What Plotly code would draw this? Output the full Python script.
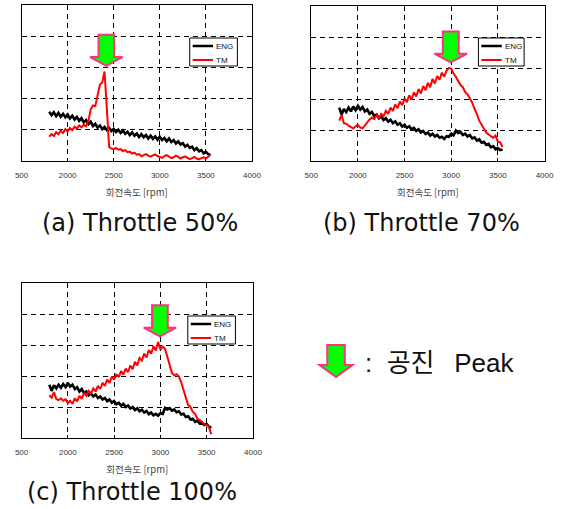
import plotly.graph_objects as go

# ---------------- data ----------------
rpm = list(range(1800, 3551, 25))  # 71 sample speeds

eng_50 = [1.58, 1.47, 1.56, 1.44, 1.54, 1.42, 1.51, 1.40, 1.49, 1.36, 1.45, 1.33,
          1.41, 1.29, 1.37, 1.24, 1.31, 1.18, 1.26, 1.12, 1.19, 1.07, 1.14, 1.02,
          1.09, 0.99, 1.06, 0.96, 1.03, 0.93, 1.00, 0.90, 0.98, 0.87, 0.94, 0.83,
          0.92, 0.81, 0.88, 0.77, 0.86, 0.76, 0.83, 0.72, 0.81, 0.71, 0.79, 0.68,
          0.78, 0.67, 0.74, 0.63, 0.72, 0.61, 0.67, 0.56, 0.63, 0.53, 0.57, 0.46,
          0.52, 0.42, 0.46, 0.35, 0.41, 0.31, 0.35, 0.25, 0.29, 0.22, 0.20]
tm_50 = [0.78, 0.86, 0.80, 0.92, 0.86, 0.97, 0.90, 1.02, 0.95, 1.06, 0.99, 1.10,
         1.04, 1.14, 1.08, 1.16, 1.12, 1.28, 1.65, 1.78, 1.76, 2.10, 2.45, 2.52,
         2.87, 1.70, 0.45, 0.40, 0.38, 0.42, 0.36, 0.38, 0.32, 0.35, 0.28, 0.30,
         0.24, 0.27, 0.20, 0.22, 0.15, 0.19, 0.22, 0.17, 0.14, 0.18, 0.21, 0.16,
         0.13, 0.10, 0.16, 0.19, 0.14, 0.09, 0.12, 0.17, 0.13, 0.08, 0.12, 0.15,
         0.10, 0.06, 0.09, 0.13, 0.08, 0.05, 0.09, 0.12, 0.08, 0.14, 0.19]

eng_70 = [1.72, 1.50, 1.68, 1.58, 1.72, 1.60, 1.76, 1.64, 1.78, 1.66, 1.74, 1.60,
          1.66, 1.52, 1.58, 1.45, 1.50, 1.38, 1.44, 1.32, 1.38, 1.27, 1.33, 1.22,
          1.28, 1.17, 1.22, 1.11, 1.17, 1.07, 1.12, 1.02, 1.07, 0.97, 1.02, 0.92,
          0.97, 0.87, 0.92, 0.82, 0.88, 0.79, 0.84, 0.75, 0.78, 0.71, 0.80, 0.78,
          0.88, 0.83, 0.98, 0.90, 0.94, 0.84, 0.88, 0.79, 0.84, 0.73, 0.76, 0.66,
          0.70, 0.59, 0.62, 0.52, 0.55, 0.44, 0.48, 0.38, 0.42, 0.35, 0.37]
tm_70 = [1.30, 1.48, 1.22, 1.20, 1.14, 1.10, 1.05, 1.12, 1.17, 1.08, 1.06, 1.15,
         1.25, 1.34, 1.40, 1.35, 1.48, 1.38, 1.52, 1.45, 1.62, 1.52, 1.72, 1.62,
         1.82, 1.70, 1.92, 1.80, 2.02, 1.90, 2.12, 1.98, 2.22, 2.08, 2.32, 2.18,
         2.42, 2.28, 2.52, 2.38, 2.65, 2.50, 2.74, 2.62, 2.85, 2.72, 2.92, 3.00,
         2.98, 2.82, 2.72, 2.60, 2.45, 2.38, 2.22, 2.15, 2.02, 1.88, 1.68, 1.52,
         1.30, 1.15, 1.05, 0.92, 0.85, 0.80, 0.75, 0.82, 0.62, 0.60, 0.45]

eng_100 = [1.72, 1.52, 1.70, 1.60, 1.72, 1.62, 1.74, 1.64, 1.78, 1.66, 1.72, 1.58,
           1.64, 1.50, 1.58, 1.45, 1.50, 1.38, 1.44, 1.34, 1.40, 1.29, 1.34, 1.24,
           1.29, 1.19, 1.24, 1.14, 1.19, 1.09, 1.14, 1.04, 1.10, 1.00, 1.05, 0.95,
           1.00, 0.90, 0.96, 0.86, 0.91, 0.82, 0.87, 0.77, 0.82, 0.73, 0.78, 0.72,
           0.80, 0.78, 0.97, 0.92, 0.96, 0.88, 0.92, 0.83, 0.86, 0.76, 0.78, 0.68,
           0.70, 0.60, 0.62, 0.52, 0.56, 0.47, 0.50, 0.42, 0.45, 0.37, 0.33]
tm_100 = [1.38, 1.30, 1.48, 1.26, 1.22, 1.28, 1.20, 1.25, 1.12, 1.20, 1.10, 1.28,
          1.18, 1.36, 1.26, 1.46, 1.36, 1.52, 1.44, 1.60, 1.50, 1.68, 1.58, 1.78,
          1.68, 1.88, 1.78, 1.98, 1.88, 2.06, 1.96, 2.16, 2.04, 2.24, 2.12, 2.34,
          2.22, 2.46, 2.34, 2.58, 2.50, 2.72, 2.60, 2.84, 2.72, 2.96, 2.82, 3.10,
          2.86, 2.95, 2.88, 2.60, 2.40, 2.10, 2.02, 2.06, 1.98, 1.80, 1.55, 1.30,
          1.06, 1.00, 0.85, 0.78, 0.62, 0.58, 0.50, 0.44, 0.42, 0.35, 0.12]

series_names = ["ENG", "TM"]
x_tickvals = [1500, 2000, 2500, 3000, 3500, 4000]
x_ticktext = ["500", "2000", "2500", "3000", "3500", "4000"]
x_title = "회전속도 [rpm]"
captions = ["(a) Throttle 50%", "(b) Throttle 70%", "(c) Throttle 100%"]
key_text = ":\u00a0\u00a0공진\u00a0\u00a0\u2009Peak"

for s in (eng_50, tm_50, eng_70, tm_70, eng_100, tm_100):
    assert len(s) == len(rpm)

# ---------------- layout helpers ----------------
W, H = 572, 509
def fx(p):
    return p / W
def fy(p):
    return 1 - p / H

LAT = "Liberation Sans, Arial, sans-serif"
KOR = "Noto Sans CJK KR, sans-serif"

panels = [
    dict(eng=eng_50, tm=tm_50, box=(15, 252, 5, 161), leg=(188, 38, 237, 66),
         cap=captions[0], cap_xy=(137, 223)),
    dict(eng=eng_70, tm=tm_70, box=(313, 553, 6, 161), leg=(485, 38, 532, 66),
         cap=captions[1], cap_xy=(426, 223)),
    dict(eng=eng_100, tm=tm_100, box=(15, 253, 283, 438), leg=(186, 316, 235, 344),
         cap=captions[2], cap_xy=(129, 492)),
]

fig = go.Figure()
shapes = []
annotations = []

ARROW_FILL = "#00ff00"
ARROW_LINE = "#ff2f86"

for i, p in enumerate(panels):
    sfx = "" if i == 0 else str(i + 1)
    xa, ya = "x" + sfx, "y" + sfx
    fig.add_trace(go.Scatter(x=rpm, y=p["eng"], mode="lines", name=series_names[0],
                             line=dict(color="black", width=2.6), xaxis=xa, yaxis=ya,
                             showlegend=False))
    fig.add_trace(go.Scatter(x=rpm, y=p["tm"], mode="lines", name=series_names[1],
                             line=dict(color="#ff0000", width=2), xaxis=xa, yaxis=ya,
                             showlegend=False))
    x0, x1, y0, y1 = p["box"]
    fig.update_layout(**{
        "xaxis" + sfx: dict(domain=[fx(x0), fx(x1)], anchor=ya, range=[1500, 4000],
                            tickvals=x_tickvals, ticktext=x_ticktext,
                            tickfont=dict(family=LAT, size=8, color="#333"),
                            ticks="inside", ticklen=3, tickcolor="black",
                            ticklabelstandoff=6,
                            showline=True, mirror=True, linecolor="black", linewidth=1,
                            showgrid=True, gridcolor="black", gridwidth=1,
                            griddash="5px,4px", zeroline=False,
                            title=dict(text=x_title, standoff=10,
                                       font=dict(family=KOR, size=9.5, color="#444"))),
        "yaxis" + sfx: dict(domain=[fy(y1), fy(y0)], anchor=xa, range=[0, 5], dtick=1,
                            showticklabels=False, ticks="inside", ticklen=3,
                            tickcolor="black",
                            showline=True, mirror=True, linecolor="black", linewidth=1,
                            showgrid=True, gridcolor="black", gridwidth=1,
                            griddash="5px,4px", zeroline=False),
    })

    # resonance peak arrow, placed from the TM peak
    k = max(range(len(rpm)), key=lambda j: p["tm"][j])
    xc = rpm[k] + 20
    tip = p["tm"][k] + 0.18
    base = tip + 0.28
    top = tip + 1.0
    hs, hh = 85, 175
    path = (f"M {xc-hs},{top} L {xc+hs},{top} L {xc+hs},{base} L {xc+hh},{base} "
            f"L {xc},{tip} L {xc-hh},{base} L {xc-hs},{base} Z")
    shapes.append(dict(type="path", xref=xa, yref=ya, path=path,
                       fillcolor=ARROW_FILL, line=dict(color=ARROW_LINE, width=2)))

    # legend box
    lx0, ly0, lx1, ly1 = p["leg"]
    shapes.append(dict(type="rect", xref="paper", yref="paper",
                       x0=fx(lx0), x1=fx(lx1), y0=fy(ly1), y1=fy(ly0),
                       fillcolor="white", line=dict(color="black", width=1)))
    for j, (nm, col, w) in enumerate([(series_names[0], "black", 2.5),
                                       (series_names[1], "#ff0000", 2)]):
        yy = ly0 + 8 + j * 14
        shapes.append(dict(type="line", xref="paper", yref="paper",
                           x0=fx(lx0 + 3), x1=fx(lx0 + 24), y0=fy(yy), y1=fy(yy),
                           line=dict(color=col, width=w)))
        annotations.append(dict(text=nm, xref="paper", yref="paper", x=fx(lx0 + 25),
                                y=fy(yy), xanchor="left", yanchor="middle",
                                showarrow=False,
                                font=dict(family=LAT, size=8, color="#111")))

    cx, cy = p["cap_xy"]
    annotations.append(dict(text=p["cap"], xref="paper", yref="paper", x=fx(cx), y=fy(cy),
                            xanchor="center", yanchor="middle", showarrow=False,
                            font=dict(family="DejaVu Sans, sans-serif", size=24,
                                      color="#111")))

# key arrow
kx, kt, kb, ktip = 338.5, 345, 365, 377
khs, khh = 9, 17
kpath = (f"M {fx(kx-khs)},{fy(kt)} L {fx(kx+khs)},{fy(kt)} L {fx(kx+khs)},{fy(kb)} "
         f"L {fx(kx+khh)},{fy(kb)} L {fx(kx)},{fy(ktip)} L {fx(kx-khh)},{fy(kb)} "
         f"L {fx(kx-khs)},{fy(kb)} Z")
shapes.append(dict(type="path", xref="paper", yref="paper", path=kpath,
                   fillcolor=ARROW_FILL, line=dict(color=ARROW_LINE, width=2)))
annotations.append(dict(text=key_text, xref="paper", yref="paper", x=fx(366), y=fy(363),
                        xanchor="left", yanchor="middle", showarrow=False,
                        font=dict(family="Liberation Sans, Noto Sans CJK KR, sans-serif",
                                  size=26, color="#111")))

fig.update_layout(width=W, height=H, margin=dict(l=0, r=0, t=0, b=0),
                  paper_bgcolor="white", plot_bgcolor="white",
                  shapes=shapes, annotations=annotations, showlegend=False)

fig.write_html("out.html")
